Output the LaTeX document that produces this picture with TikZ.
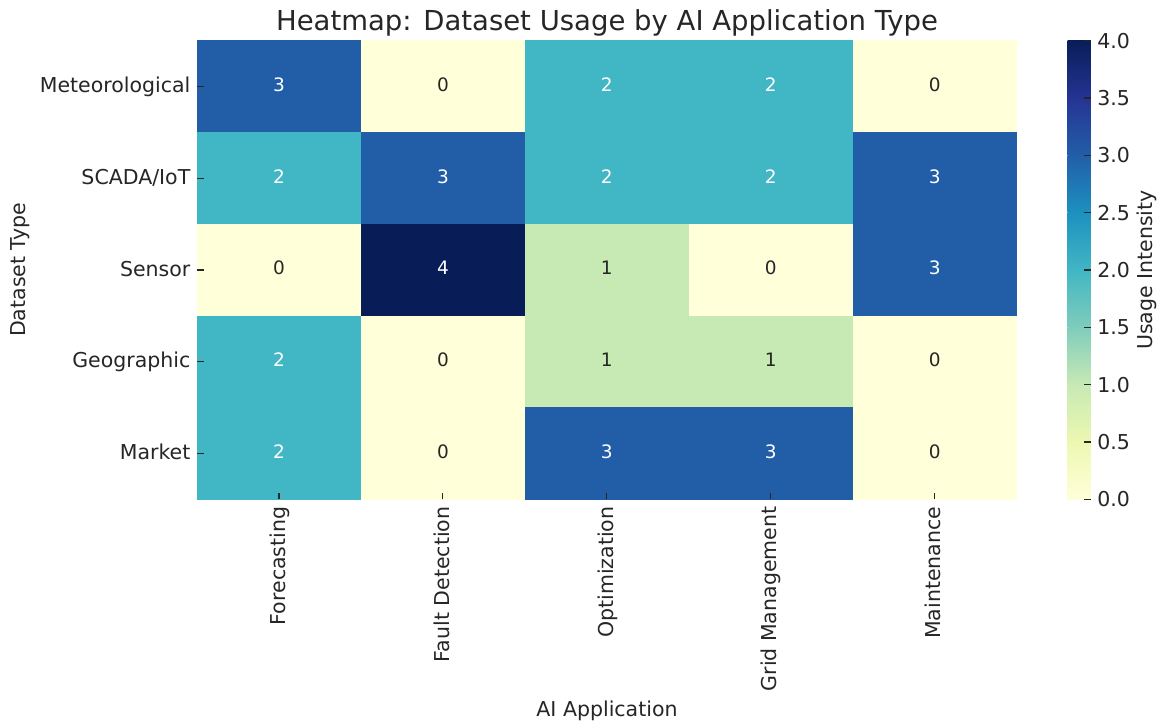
\documentclass[tikz,border=0pt]{standalone}
\usepackage{fontspec}
\setmainfont{DejaVu Sans}
\definecolor{c0}{HTML}{FFFFD9}
\definecolor{c1}{HTML}{EDF8B1}
\definecolor{c2}{HTML}{C7E9B4}
\definecolor{c3}{HTML}{7FCDBB}
\definecolor{c4}{HTML}{41B6C4}
\definecolor{c5}{HTML}{1D91C0}
\definecolor{c6}{HTML}{225EA8}
\definecolor{c7}{HTML}{253494}
\definecolor{c8}{HTML}{081D58}
\colorlet{v0}{c0}
\colorlet{v1}{c2}
\colorlet{v2}{c4}
\colorlet{v3}{c6}
\colorlet{v4}{c8}
\definecolor{txt}{HTML}{262626}
\begin{document}
\begin{tikzpicture}[x=1pt,y=-1pt,
  cell/.style={inner sep=0pt, minimum width=164.3pt, minimum height=92.1pt},
  annot/.style={inner sep=0pt, font=\fontsize{18.5}{22}\selectfont},
  ticklab/.style={inner sep=0pt, text=txt, font=\fontsize{20.5}{24}\selectfont},
  axlab/.style={inner sep=0pt, text=txt, font=\fontsize{20.5}{24}\selectfont},
  titlelab/.style={inner sep=0pt, text=txt, font=\fontsize{27.5}{32}\selectfont},
  tickmark/.style={draw=txt, line width=1.1pt}]
\useasboundingbox (0,0) rectangle (1162,724);
\fill[white] (0,0) rectangle (1162,724);
\def\X{197}
\def\W{163.94}
\def\Y{40.6}
\def\H{91.76}
% cells
\foreach \row [count=\r from 0] in {{3,0,2,2,0},{2,3,2,2,3},{0,4,1,0,3},{2,0,1,1,0},{2,0,3,3,0}} {
  \foreach \v [count=\c from 0] in \row {
    \ifnum\v>1 \def\tc{white}\else\def\tc{txt}\fi
    \node[cell, fill=v\v] (cell-\r-\c) at ({\X+(\c+0.5)*\W},{\Y+(\r+0.5)*\H}) {};
    \node[annot, text=\tc] (val-\r-\c) at ([yshift=1.8pt]cell-\r-\c.center) {\v};
  }
}
% row labels and ticks
\foreach \lab [count=\r from 0] in {Meteorological,SCADA/IoT,Sensor,Geographic,Market} {
  \node[ticklab, anchor=base east] (row-\r) at (190.5,{\Y+(\r+0.5)*\H+6.2}) {\lab};
  \draw[tickmark] (\X,{\Y+(\r+0.5)*\H}) -- ++(6.5,0);
}
% column labels and ticks
\foreach \lab [count=\c from 0] in {Forecasting,Fault Detection,Optimization,Grid Management,Maintenance} {
  \node[ticklab, rotate=90, anchor=base east] (col-\c) at ({\X+(\c+0.5)*\W+6.2},506.5) {\lab};
  \draw[tickmark] ({\X+(\c+0.5)*\W},{\Y+5*\H}) -- ++(0,-6.5);
}
% title and axis labels
\node[titlelab, anchor=base] (title) at (607,30.2) {Heatmap: Dataset Usage by AI Application Type};
\node[axlab, anchor=base] (xlab) at (607,716.5) {AI Application};
\node[axlab, anchor=base, rotate=90] (ylab) at (25.2,270) {Dataset Type};
% colorbar
\def\CB{499.3}
\def\CS{57.325}
\foreach \i [evaluate=\i as \j using int(\i+1)] in {0,...,7} {
  \shade[bottom color=c\i, top color=c\j]
    (1067.7,{\CB-\i*\CS+0.3}) rectangle (1090.7,{\CB-(\i+1)*\CS-0.3});
}
\foreach \lab [count=\k from 0] in {0.0,0.5,1.0,1.5,2.0,2.5,3.0,3.5,4.0} {
  \draw[tickmark] (1090.7,{\CB-\k*\CS}) -- ++(-6.5,0);
  \node[ticklab, anchor=west] (cb-\k) at (1097.2,{\CB-\k*\CS}) {\lab};
}
\node[axlab, anchor=base, rotate=90] (cblab) at (1152,270) {Usage Intensity};
\end{tikzpicture}
\end{document}
